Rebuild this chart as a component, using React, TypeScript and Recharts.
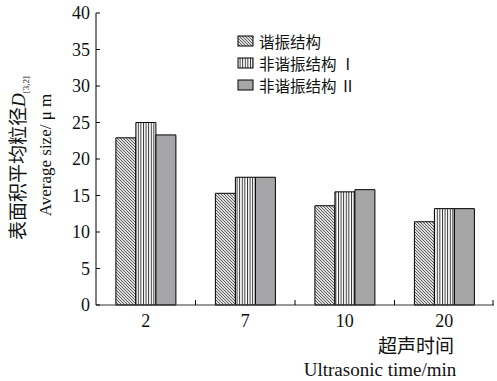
import React from 'react';
import { BarChart, Bar, XAxis, YAxis, Legend, Customized } from 'recharts';

const categories = ['2', '7', '10', '20'];
const resonant = [22.9, 15.3, 13.6, 11.4];
const nonResonant1 = [25.0, 17.5, 15.5, 13.2];
const nonResonant2 = [23.3, 17.5, 15.8, 13.2];
const seriesNames = ['谐振结构', '非谐振结构 Ⅰ', '非谐振结构 Ⅱ'];
const seriesFills = ['url(#hatchDiag)', 'url(#hatchVert)', '#a6a6a9'];
const yTicks = [0, 5, 10, 15, 20, 25, 30, 35, 40];

const data = categories.map((c, i) => ({
  time: c,
  s0: resonant[i],
  s1: nonResonant1[i],
  s2: nonResonant2[i],
}));

const SERIF = "'Liberation Serif', 'Times New Roman', 'Noto Sans CJK SC', serif";
const CJK = "'Noto Sans CJK SC', 'Liberation Serif', serif";

const W = 497;
const H = 381;
const M = { top: 13, right: 3, left: 0, bottom: 0 };
const Y_W = 96;
const X_H = 76;
const BAND = (W - Y_W - M.left - M.right) / categories.length;

const YTick = (props: any) => {
  const { x, y, payload } = props;
  return (
    <g>
      <line x1={x + 6} x2={x + 10} y1={y} y2={y} stroke="#000" strokeWidth={1} />
      <text x={x} y={y} dy={6} textAnchor="end" fontFamily={SERIF} fontSize={18} fill="#111">
        {payload.value}
      </text>
    </g>
  );
};

const XTick = (props: any) => {
  const { x, y, payload, index } = props;
  const axisY = y - 2;
  return (
    <g>
      {index > 0 && (
        <line x1={x - BAND / 2} x2={x - BAND / 2} y1={axisY} y2={axisY - 5} stroke="#000" strokeWidth={1} />
      )}
      {index === categories.length - 1 && (
        <line x1={x + BAND / 2 - 1} x2={x + BAND / 2 - 1} y1={axisY} y2={axisY - 5} stroke="#000" strokeWidth={1} />
      )}
      <text x={x} y={axisY} dy={22} textAnchor="middle" fontFamily={SERIF} fontSize={18} fill="#111">
        {payload.value}
      </text>
    </g>
  );
};

const LegendContent = (props: any) => {
  const { payload } = props;
  return (
    <svg width={150} height={68} style={{ display: 'block', overflow: 'visible' }}>
      {(payload || []).map((p: any, i: number) => (
        <g key={i} transform={`translate(0, ${i * 22})`}>
          <rect x={1} y={2} width={15} height={10} fill={p.color} stroke="#000" strokeWidth={1} />
          <text x={22} y={13.5} fontFamily={CJK} fontSize={15.5} fill="#111">
            {p.value}
          </text>
        </g>
      ))}
    </svg>
  );
};

const AxisTitles = () => (
  <g>
    <text
      transform="translate(25, 158) rotate(-90)"
      textAnchor="middle"
      fontFamily={CJK}
      fontSize={19}
      fill="#111"
    >
      表面积平均粒径
      <tspan fontFamily={SERIF} fontStyle="italic">D</tspan>
      <tspan fontFamily={SERIF} fontSize={9} dy={4}>[3,2]</tspan>
    </text>
    <text
      transform="translate(51, 155) rotate(-90)"
      textAnchor="middle"
      fontFamily={SERIF}
      fontSize={17}
      fill="#111"
    >
      Average size/ μ m
    </text>
    <text x={416} y={353} textAnchor="middle" fontFamily={CJK} fontSize={19} fill="#111">
      超声时间
    </text>
    <text x={380} y={376} textAnchor="middle" fontFamily={SERIF} fontSize={19} fill="#111">
      Ultrasonic time/min
    </text>
  </g>
);

export default function App() {
  return (
    <div style={{ position: 'absolute', left: 0, top: 0, width: W, height: H, background: '#fff' }}>
      <BarChart
        width={W}
        height={H}
        data={data}
        margin={M}
        barCategoryGap="20%"
        barGap={0}
      >
        <defs>
          <pattern id="hatchDiag" patternUnits="userSpaceOnUse" width={3} height={3}>
            <rect width={3} height={3} fill="#dcdcdc" />
            <path d="M0,0 L3,3 M-1,2 L1,4 M2,-1 L4,1" stroke="#444" strokeWidth={0.8} />
          </pattern>
          <pattern id="hatchVert" patternUnits="userSpaceOnUse" width={2.6} height={10}>
            <rect width={2.6} height={10} fill="#fff" />
            <line x1={0.5} x2={0.5} y1={0} y2={10} stroke="#222" strokeWidth={0.9} />
          </pattern>
        </defs>
        <XAxis
          dataKey="time"
          height={X_H}
          axisLine={{ stroke: '#333', strokeWidth: 1 }}
          tickLine={false}
          tickSize={0}
          tickMargin={2}
          tick={<XTick />}
          interval={0}
        />
        <YAxis
          width={Y_W}
          domain={[0, 40]}
          ticks={yTicks}
          interval={0}
          axisLine={{ stroke: '#000', strokeWidth: 1 }}
          tickLine={false}
          tickSize={0}
          tickMargin={6}
          tick={<YTick />}
        />
        <Legend
          layout="horizontal"
          verticalAlign="middle"
          align="center"
          wrapperStyle={{ position: 'absolute', left: 237, top: 34, width: 150, height: 68 }}
          content={<LegendContent />}
        />
        <Bar dataKey="s0" name={seriesNames[0]} fill={seriesFills[0]} stroke="#000" strokeWidth={1} isAnimationActive={false} />
        <Bar dataKey="s1" name={seriesNames[1]} fill={seriesFills[1]} stroke="#000" strokeWidth={1} isAnimationActive={false} />
        <Bar dataKey="s2" name={seriesNames[2]} fill={seriesFills[2]} stroke="#000" strokeWidth={1} isAnimationActive={false} />
        <Customized component={AxisTitles} />
      </BarChart>
    </div>
  );
}
